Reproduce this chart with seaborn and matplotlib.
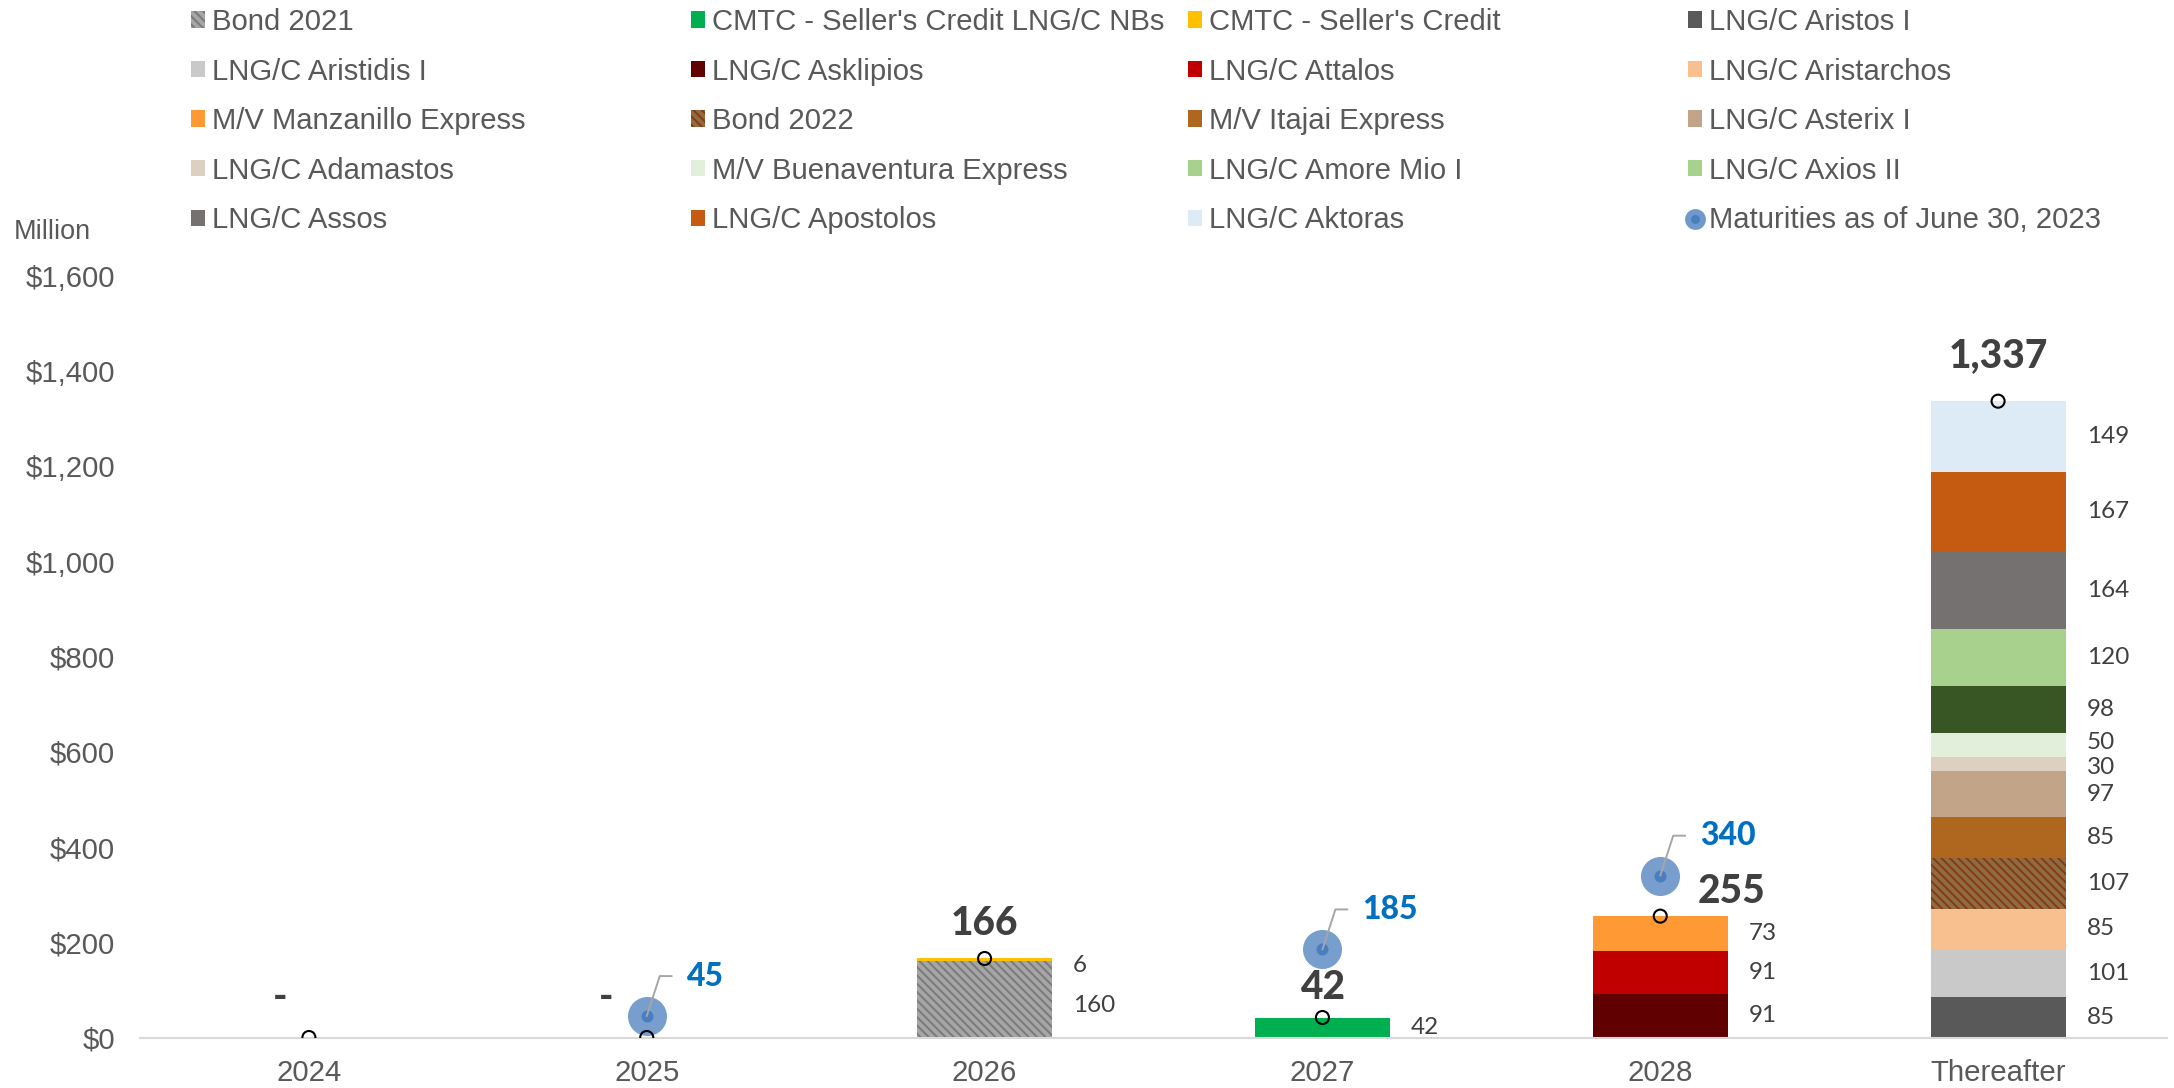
import numpy as np
import pandas as pd
import matplotlib
matplotlib.use("Agg")
import matplotlib.pyplot as plt
from matplotlib.patches import Patch
from matplotlib.lines import Line2D
from matplotlib.legend_handler import HandlerTuple
import seaborn as sns

# ---------------------------------------------------------------- data
categories = ["2024", "2025", "2026", "2027", "2028", "Thereafter"]

series_names = [
    "Bond 2021", "CMTC - Seller's Credit LNG/C NBs", "CMTC - Seller's Credit",
    "LNG/C Aristos I", "LNG/C Aristidis I", "LNG/C Asklipios", "LNG/C Attalos",
    "LNG/C Aristarchos", "M/V Manzanillo Express", "Bond 2022",
    "M/V Itajai Express", "LNG/C Asterix I", "LNG/C Adamastos",
    "M/V Buenaventura Express", "LNG/C Amore Mio I", "LNG/C Axios II",
    "LNG/C Assos", "LNG/C Apostolos", "LNG/C Aktoras",
]
series_category = [
    "2026", "2027", "2026",
    "Thereafter", "Thereafter", "2028", "2028",
    "Thereafter", "2028", "Thereafter",
    "Thereafter", "Thereafter", "Thereafter",
    "Thereafter", "Thereafter", "Thereafter",
    "Thereafter", "Thereafter", "Thereafter",
]
series_values = [
    160, 42, 6,
    85, 101, 91, 91,
    85, 73, 107,
    85, 97, 30,
    50, 98, 120,
    164, 167, 149,
]
bar_colors = [
    "#A6A6A6", "#00B050", "#FFC000",
    "#595959", "#C9C9C9", "#600000", "#C00000",
    "#F9C08F", "#FF9933", "#8F6A45",
    "#AF671F", "#C2A588", "#DDD0C0",
    "#E2EFDA", "#375623", "#A9D18E",
    "#767171", "#C55A11", "#DDEBF7",
]
legend_colors = list(bar_colors)
legend_colors[series_names.index("LNG/C Amore Mio I")] = "#A9D18E"
hatch_styles = {"Bond 2021": ("\\\\\\\\", "#7A7A7A"),
                "Bond 2022": ("\\\\\\\\", "#843C0C")}

totals = [0, 0, 166, 42, 255, 1337]
total_labels = ["-", "-", "166", "42", "255", "1,337"]

maturity_categories = ["2025", "2027", "2028"]
maturity_values = [45, 185, 340]
maturity_label = "Maturities as of June 30, 2023"

y_ticks = [0, 200, 400, 600, 800, 1000, 1200, 1400, 1600]

# ---------------------------------------------------------------- style
sns.set_theme(style="white")
plt.rcParams["font.family"] = ["Liberation Sans", "DejaVu Sans"]
plt.rcParams["hatch.linewidth"] = 1.4

TICK_GREY = "#595959"
LABEL_DARK = "#404040"
BLUE_TEXT = "#0070C0"
NUM_FONT = ["Lato", "DejaVu Sans"]
PX = 0.72  # points per pixel at 100 dpi

fig = plt.figure(figsize=(21.74, 10.88), dpi=100)
ax = fig.add_axes([140 / 2174, 50.5 / 1088, 2027 / 2174, 761.5 / 1088])

pos = {c: i for i, c in enumerate(categories)}
bar_width = 0.4

# ---------------------------------------------------------------- stacked bars
df = pd.DataFrame({"category": series_category, "series": series_names,
                   "value": series_values})
df["x"] = df["category"].map(pos)
df["bottom"] = df.groupby("category")["value"].cumsum() - df["value"]

for i, row in df.iterrows():
    n_before = len(ax.patches)
    sns.barplot(data=df.iloc[[i]], x="x", y="value", native_scale=True,
                color=bar_colors[i], saturation=1, width=bar_width,
                errorbar=None, bottom=row["bottom"], linewidth=0, ax=ax)
    new = ax.patches[n_before:]
    if row["series"] in hatch_styles:
        hatch, hcolor = hatch_styles[row["series"]]
        for p in new:
            p.set_hatch(hatch)
            p.set_edgecolor(hcolor)
            p.set_linewidth(0)

# segment value labels to the right of each bar (pixel nudges keep thin
# neighbouring segments' labels apart)
cat_dy = {"2026": -6}
series_dy = {"LNG/C Adamastos": -4, "M/V Buenaventura Express": 2}
for _, row in df.iterrows():
    dy = cat_dy.get(row["category"], 0) + series_dy.get(row["series"], 0)
    ax.annotate(f"{row['value']:.0f}",
                xy=(row["x"] + bar_width / 2, row["bottom"] + row["value"] / 2),
                xytext=(21 * PX, dy * PX),
                textcoords="offset points", ha="left", va="center",
                fontsize=17.5, color=LABEL_DARK, family=NUM_FONT)

# ---------------------------------------------------------------- maturities bubbles
mx = [pos[c] for c in maturity_categories]
sns.scatterplot(x=mx, y=maturity_values, s=790, color="#7099CB", alpha=0.95,
                linewidth=0, ax=ax, zorder=4, legend=False)
sns.scatterplot(x=mx, y=maturity_values, s=75, color="#4A7EC0",
                linewidth=0, ax=ax, zorder=5, legend=False)
for x, v in zip(mx, maturity_values):
    ax.annotate("", xy=(x, v), xytext=(25 * PX, 40 * PX),
                textcoords="offset points",
                arrowprops=dict(arrowstyle="-", color="#A6A6A6", lw=1.4,
                                shrinkA=0, shrinkB=0,
                                connectionstyle="angle,angleA=0,angleB=72,rad=0"),
                zorder=6)
    ax.annotate(f"{v}", xy=(x, v), xytext=(40 * PX, 40 * PX),
                textcoords="offset points", ha="left", va="center",
                fontsize=23, fontweight="black", color=BLUE_TEXT,
                family=NUM_FONT, zorder=6)

# ---------------------------------------------------------------- totals
tx = np.arange(len(categories))
sns.scatterplot(x=tx, y=totals, s=88, marker="o", facecolor="none",
                edgecolor="black", linewidth=1.5, ax=ax, zorder=7, legend=False)
total_offsets = [(-29, 40), (-41, 40), (0, 35), (0, 30), (71, 25), (0, 46)]
for x, v, lab, (dx, dy) in zip(tx, totals, total_labels, total_offsets):
    ax.annotate(lab, xy=(x, v), xytext=(dx * PX, dy * PX),
                textcoords="offset points", ha="center", va="center",
                fontsize=28, fontweight="black", color=LABEL_DARK,
                family=NUM_FONT, zorder=8)

# ---------------------------------------------------------------- axes
ax.set_xlim(-0.5, len(categories) - 0.5)
ax.set_ylim(0, 1600)
ax.set_xticks(tx)
ax.set_xticklabels(categories)
ax.set_yticks(y_ticks)
ax.set_yticklabels([f"${t:,}" for t in y_ticks])
ax.tick_params(axis="both", length=0, labelsize=21.2, labelcolor=TICK_GREY)
ax.tick_params(axis="y", pad=18)
ax.tick_params(axis="x", pad=15.5)
ax.set_xlabel("")
ax.set_ylabel("")
for side in ["left", "right", "top"]:
    ax.spines[side].set_visible(False)
ax.spines["bottom"].set_color("#D9D9D9")
ax.spines["bottom"].set_linewidth(1.5)
ax.grid(False)

fig.text(52 / 2174, 1 - 232 / 1088, "Million", ha="center", va="center",
         fontsize=19.5, color=TICK_GREY)

# ---------------------------------------------------------------- legend (4 columns)
handles = []
for name, col in zip(series_names, legend_colors):
    if name in hatch_styles:
        hatch, hcolor = hatch_styles[name]
        handles.append(Patch(facecolor=col, edgecolor=hcolor, hatch=hatch,
                             linewidth=0))
    else:
        handles.append(Patch(facecolor=col, edgecolor="none", linewidth=0))
handles.append((Line2D([], [], ls="", marker="o", ms=15, mfc="#7099CB",
                       mec="none"),
                Line2D([], [], ls="", marker="o", ms=6.5, mfc="#4A7EC0",
                       mec="none")))
labels = series_names + [maturity_label]

col_x = [191, 691, 1188, 1688]
for j, cx in enumerate(col_x):
    leg = fig.legend(handles[j::4], labels[j::4], loc="upper left",
                     bbox_to_anchor=(cx / 2174, 1 - 8 / 1088),
                     frameon=False, borderpad=0, borderaxespad=0,
                     handlelength=0.48, handleheight=0.48, handletextpad=0.24,
                     labelspacing=0.735, fontsize=21.1,
                     handler_map={tuple: HandlerTuple(ndivide=1)})
    for t in leg.get_texts():
        t.set_color(TICK_GREY)

fig.savefig("out.png", dpi=100)
